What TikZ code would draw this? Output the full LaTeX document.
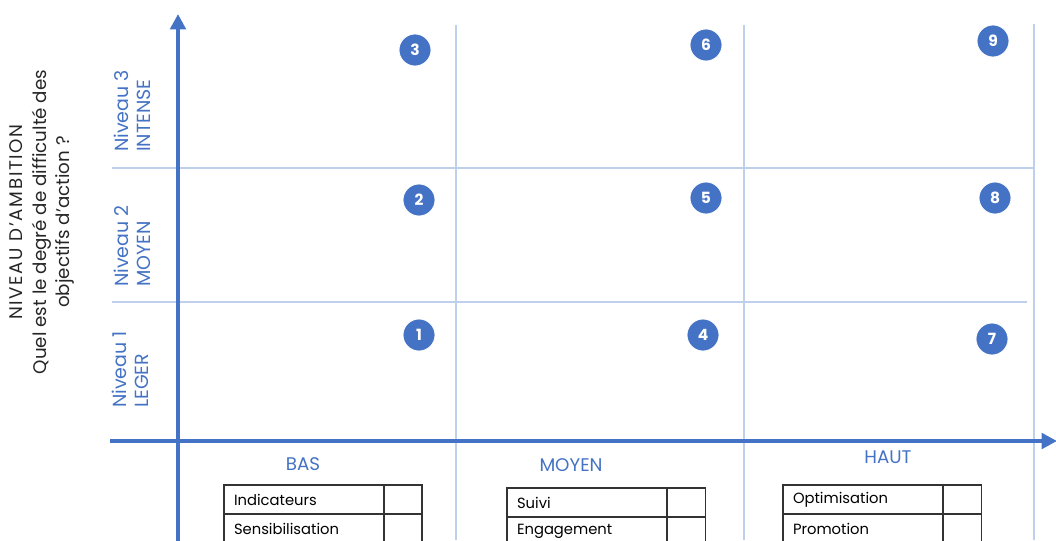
\documentclass[tikz,border=0pt]{standalone}
\usepackage{fontspec}
\setmainfont{Poppins}
\usepackage{xcolor}
\usepackage{tikz}
\usetikzlibrary{arrows.meta,positioning}
\definecolor{axisblue}{HTML}{4472C4}
\definecolor{gridblue}{HTML}{BFD0EC}

\begin{document}
\begin{tikzpicture}[
  x=0.025cm, y=-0.025cm,
  axis/.style={draw=axisblue, line width=2.8pt, -{Triangle[length=11pt, width=11pt]}},
  gridline/.style={draw=gridblue, line width=1.1pt},
  level/.style={rotate=90, anchor=west, align=left, inner sep=0pt, text=axisblue, font=\fontsize{13.5}{15.6}\selectfont},
  score/.style={text=axisblue, font=\fontsize{13}{15}\selectfont},
  badge/.style={circle, fill=axisblue, draw=white, line width=0.6pt, minimum size=0.8cm, inner sep=0pt, text=white, font=\fontsize{11}{12}\selectfont\bfseries},
  cellname/.style={draw=black!80, line width=0.8pt, minimum height=0.725cm, text width=3.5cm, inner xsep=0.25cm, inner ysep=0pt, align=left, anchor=north west, outer sep=0pt, font=\fontsize{10.5}{12}\selectfont},
  cellbox/.style={draw=black!80, line width=0.8pt, minimum height=0.725cm, minimum width=0.95cm, outer sep=0pt},
]
  \clip (0,0) rectangle (1056,540);

  % grid
  \draw[gridline] (456,25) -- (456,540);
  \draw[gridline] (744,25) -- (744,540);
  \draw[gridline] (1034,24) -- (1034,540);
  \draw[gridline] (112,168) -- (1034,168);
  \draw[gridline] (112,302) -- (1027,302);

  % axes
  \coordinate (ybot) at (178,545);
  \coordinate (ytop) at (178,14);
  \coordinate (xleft) at (110,441);
  \coordinate (xright) at (1057,441);
  \draw[axis] (ybot) -- (ytop);
  \draw[axis] (xleft) -- (xright);

  % vertical axis labels
  \node[rotate=90, align=center, text=black!85, font=\fontsize{13}{16.5}\selectfont] (title) at (42,222) {{\addfontfeature{LetterSpace=9}NIVEAU D'AMBITION}\\Quel est le degré de difficulté des\\objectifs d'action ?};
  \node[level] (lev3) at (132,152) {Niveau 3\\INTENSE};
  \node[level] (lev2) at (132,287) {Niveau 2\\MOYEN};
  \node[level] (lev1) at (130,408) {Niveau 1\\LEGER};

  % numbered cells
  \node[badge] (n1) at (419,335) {1};
  \node[badge] (n2) at (419,200) {2};
  \node[badge] (n3) at (415,50) {3};
  \node[badge] (n4) at (703,335) {4};
  \node[badge] (n5) at (706,198) {5};
  \node[badge] (n6) at (706,45) {6};
  \node[badge] (n7) at (992,339) {7};
  \node[badge] (n8) at (995,198) {8};
  \node[badge] (n9) at (993,41) {9};

  % horizontal axis labels
  \node[score] (bas) at (303,464) {BAS};
  \node[score] (moyen) at (571,465) {MOYEN};
  \node[score] (haut) at (888,457) {HAUT};

  % tables
  \node[cellname] (bas1) at (224,485) {Indicateurs};
  \node[cellbox, right=0pt of bas1] (bas1chk) {};
  \node[cellname, below=0pt of bas1] (bas2) {Sensibilisation};
  \node[cellbox, right=0pt of bas2] (bas2chk) {};

  \node[cellname] (moy1) at (507,488) {Suivi};
  \node[cellbox, right=0pt of moy1] (moy1chk) {};
  \node[cellname, below=0pt of moy1] (moy2) {Engagement};
  \node[cellbox, right=0pt of moy2] (moy2chk) {};

  \node[cellname] (haut1) at (783,485) {Optimisation};
  \node[cellbox, right=0pt of haut1] (haut1chk) {};
  \node[cellname, below=0pt of haut1] (haut2) {Promotion};
  \node[cellbox, right=0pt of haut2] (haut2chk) {};
\end{tikzpicture}
\end{document}
